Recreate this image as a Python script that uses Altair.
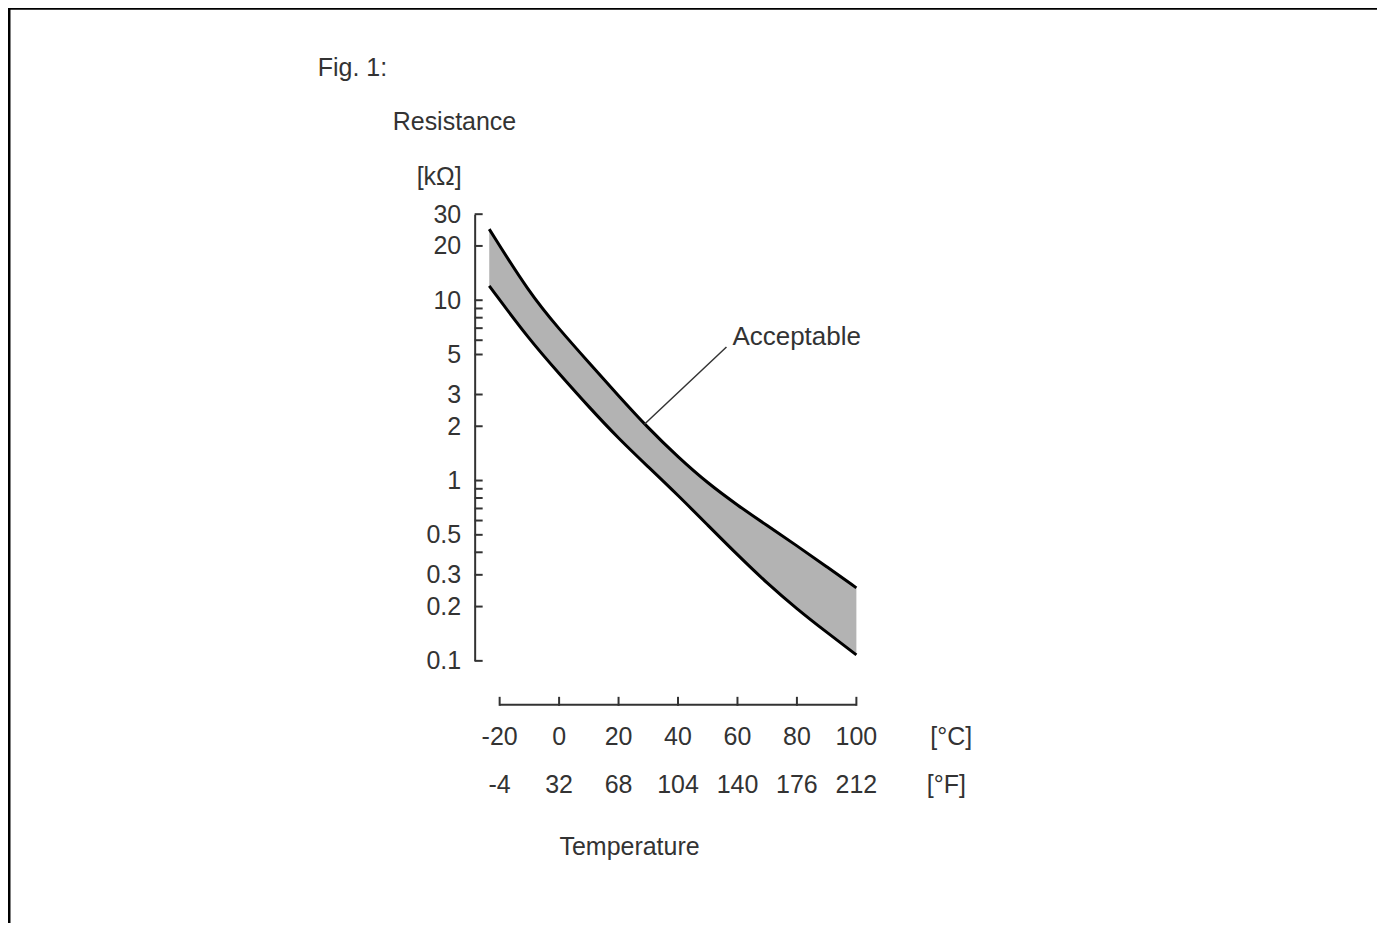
import altair as alt
import pandas as pd

# ---- data ----
temps = [-23.5, -10, 0, 10, 20, 30, 40, 50, 60, 70, 80, 90, 100]
upper = [24.8, 10.96, 6.92, 4.51, 2.95, 1.95, 1.35, 0.966, 0.730, 0.562, 0.435, 0.333, 0.254]
lower = [12.0, 6.04, 3.92, 2.56, 1.71, 1.19, 0.828, 0.566, 0.387, 0.269, 0.194, 0.144, 0.108]

y_label_values = [30, 20, 10, 5, 3, 2, 1, 0.5, 0.3, 0.2, 0.1]
y_tick_values = [30, 20, 10, 9, 8, 7, 6, 5, 3, 2, 1, 0.9, 0.8, 0.7, 0.6, 0.5, 0.4, 0.3, 0.2, 0.1]
x_ticks_c = [-20, 0, 20, 40, 60, 80, 100]
x_ticks_f = [-4, 32, 68, 104, 140, 176, 212]

leader_from = (28.7, 2.05)
leader_to = (56.3, 5.5)
label_pos = (58.3, 6.25)

FONT = "Liberation Sans"
TXT = "#333333"
FS = 25

band = pd.DataFrame({"t": temps, "hi": upper, "lo": lower})
xticks = pd.DataFrame({"c": x_ticks_c, "f": [str(v) for v in x_ticks_f]})
yticks = pd.DataFrame({"v": y_tick_values})
xaxis = pd.DataFrame({"x0": [x_ticks_c[0]], "x1": [x_ticks_c[-1]]})
leader = pd.DataFrame({"t0": [leader_from[0]], "r0": [leader_from[1]],
                       "t1": [leader_to[0]], "r1": [leader_to[1]]})
lab = pd.DataFrame({"t": [label_pos[0]], "r": [label_pos[1]], "s": ["Acceptable"]})
one = pd.DataFrame({"a": [0]})

xs = alt.Scale(domain=[-20, 100], nice=False, zero=False)
ys = alt.Scale(type="log", domain=[0.1, 30], nice=False)
yaxis = alt.Axis(values=y_label_values, format="~g", ticks=False, tickSize=0,
                 offset=25, domainColor=TXT, domainWidth=2, labelFontSize=FS,
                 labelColor=TXT, labelFont=FONT, labelPadding=14, title=None,
                 grid=False, labelOverlap=False)

def X(f):
    return alt.X(f, type="quantitative", scale=xs, axis=None)

def Y(f):
    return alt.Y(f, type="quantitative", scale=ys, axis=yaxis)

INTERP = "basis"

area = alt.Chart(band).mark_area(color="#b3b3b3", interpolate=INTERP).encode(
    x=X("t"), y=Y("hi"), y2="lo")
line_hi = alt.Chart(band).mark_line(color="black", strokeWidth=3, interpolate=INTERP).encode(
    x=X("t"), y=Y("hi"))
line_lo = alt.Chart(band).mark_line(color="black", strokeWidth=3, interpolate=INTERP).encode(
    x=X("t"), y=Y("lo"))

ytick_rules = alt.Chart(yticks).mark_rule(color=TXT, strokeWidth=2).encode(
    y=Y("v"), x=alt.value(-25), x2=alt.value(-17))

xaxis_rule = alt.Chart(xaxis).mark_rule(color=TXT, strokeWidth=2).encode(
    x=X("x0"), x2="x1", y=alt.value(491))
xtick_rules = alt.Chart(xticks).mark_rule(color=TXT, strokeWidth=2).encode(
    x=X("c"), y=alt.value(483), y2=alt.value(492))
xlab_c = alt.Chart(xticks).mark_text(font=FONT, fontSize=FS, color=TXT, baseline="middle").encode(
    x=X("c"), y=alt.value(523), text="c:N")
xlab_f = alt.Chart(xticks).mark_text(font=FONT, fontSize=FS, color=TXT, baseline="middle").encode(
    x=X("c"), y=alt.value(571), text="f:N")

leader_rule = alt.Chart(leader).mark_rule(color=TXT, strokeWidth=1.5).encode(
    x=X("t0"), x2="t1", y=Y("r0"), y2="r1")
acc = alt.Chart(lab).mark_text(font=FONT, fontSize=FS + 1, color=TXT, align="left",
                               baseline="middle").encode(x=X("t"), y=Y("r"), text="s:N")

def note(txt, x, y, align="left"):
    return alt.Chart(one).mark_text(font=FONT, fontSize=FS, color=TXT, align=align,
                                    baseline="middle", text=txt).encode(
        x=alt.value(x), y=alt.value(y))

notes = [
    note("Fig. 1:", -182, -146),
    note("Resistance", -107, -92),
    note("[kΩ]", -38, -37, "right"),
    note("[°C]", 452, 523, "center"),
    note("[°F]", 447, 571, "center"),
    note("Temperature", 130, 633, "center"),
]

frame = alt.Chart(one).mark_rect(filled=False, stroke="black", strokeWidth=3).encode(
    x=alt.value(-491), x2=alt.value(1500), y=alt.value(-206), y2=alt.value(1500))

chart = alt.layer(
    frame, area, line_hi, line_lo, ytick_rules, xaxis_rule, xtick_rules,
    xlab_c, xlab_f, leader_rule, acc, *notes
).properties(
    width=357, height=447,
    padding={"left": 492, "top": 206, "right": 521, "bottom": 262},
    autosize=alt.AutoSizeParams(type="none"),
    background="white",
).configure_view(strokeWidth=0, stroke="transparent")

chart.save("out.html", embed_options={"renderer": "svg", "actions": False})
